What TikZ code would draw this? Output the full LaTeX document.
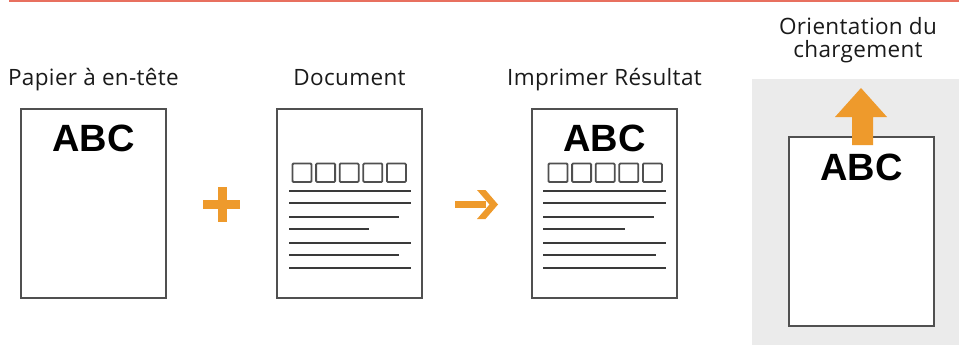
\documentclass[tikz,border=0pt]{standalone}
\usepackage{fontspec}
\setmainfont{Open Sans}[LetterSpace=1.5]
\newfontfamily\abcfont{Liberation Sans}
\definecolor{redline}{HTML}{E8705F}
\definecolor{orangec}{HTML}{EE9A2C}
\definecolor{pagegray}{HTML}{505050}
\definecolor{linegray}{HTML}{3A3A3A}
\definecolor{bggray}{HTML}{EBEBEB}
\definecolor{txt}{HTML}{1A1A1A}
\begin{document}
\begin{tikzpicture}[x=1pt,y=-1pt,
  page/.style={draw=pagegray, line width=1.8pt, fill=white, minimum width=145pt, minimum height=189pt, anchor=north west, inner sep=0pt, outer sep=0pt},
  lbl/.style={font=\fontsize{22.5}{23}\selectfont, text=txt, anchor=base, inner sep=0pt},
  abc/.style={font=\abcfont\bfseries\fontsize{38}{38}\selectfont, text=black, anchor=base, inner sep=0pt},
  txtline/.style={draw=linegray, line width=1.8pt},
  sq/.style={draw=pagegray, line width=1.8pt, rounded corners=1pt},
  sym/.style={fill=orangec, draw=none}
]
\useasboundingbox (0,0) rectangle (959,345);
% top red rule
\draw[redline, line width=1.6pt] (9,0.8) -- (959,0.8);
% grey panel
\fill[bggray] (752,79) rectangle (959,345);

% labels
\node[lbl] (l1) at (93.5,85) {Papier à en-tête};
\node[lbl] (l2) at (349.5,85) {Document};
\node[lbl] (l3) at (604.5,85) {Imprimer Résultat};
\node[lbl] (l4a) at (858,34.5) {Orientation du};
\node[lbl] (l4b) at (858,57.5) {chargement};

% pages
\node[page] (p1) at (21,109) {};
\node[page] (p2) at (277,109) {};
\node[page] (p3) at (532,109) {};
\node[page] (p4) at (789,137) {};

% ABC texts
\node[abc] (a1) at (93.5,151.5) {ABC};
\node[abc] (a3) at (604.5,151.5) {ABC};
\node[abc] (a4) at (861.5,180) {ABC};

% squares and lines on pages 2 and 3
\foreach \i in {0,...,4} {
  \draw[sq] ({292.5+\i*23.6},163.5) rectangle ({292.5+\i*23.6+19},182);
  \draw[sq] ({548.5+\i*23.6},163.5) rectangle ({548.5+\i*23.6+19},182);
}
\foreach \y/\ea/\eb in {191/411/666, 203/411/666, 217/399/654, 229/369/625, 243/411/666, 255/399/656, 268/411/666} {
  \draw[txtline] (289,\y) -- (\ea,\y);
  \draw[txtline] (543,\y) -- (\eb,\y);
}

% plus sign
\fill[sym] (203,199.5) rectangle (240,208.5);
\fill[sym] (217.5,186.5) rectangle (226.5,222);
% right arrow
\fill[sym] (455,200.8) rectangle (486,208.3);
\fill[sym] (477,190) -- (485.5,190) -- (498,204.5) -- (485.5,219) -- (477,219) -- (489.5,204.5) -- cycle;
% up arrow
\fill[sym] (861,88) -- (887,117) -- (873,117) -- (873,145) -- (852,145) -- (852,117) -- (835,117) -- cycle;
\end{tikzpicture}
\end{document}
